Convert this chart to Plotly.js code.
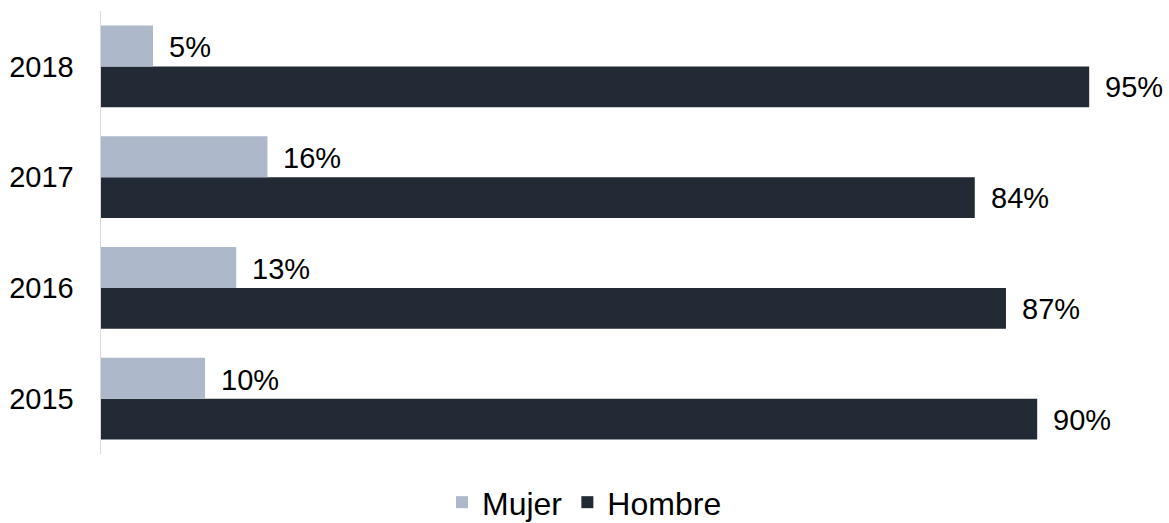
<!DOCTYPE html>
<html>
<head>
<meta charset="utf-8">
<script src="https://cdn.plot.ly/plotly-3.0.1.min.js"></script>
<style>html,body{margin:0;padding:0;background:#fff;}#chart{width:1169px;height:523px;}</style>
</head>
<body>
<div id="chart"></div>
<script>
const years = ['2015', '2016', '2017', '2018'];
const mujer = [10, 13, 16, 5];
const hombre = [90, 87, 84, 95];
const seriesNames = ['Mujer', 'Hombre'];
const colors = {Mujer: '#adb9ca', Hombre: '#222a35'};

const FONT = 'Liberation Sans, Arial, sans-serif';
const FS = 29;

const traces = [
  {type: 'bar', orientation: 'h', name: seriesNames[1], y: years, x: hombre,
   marker: {color: colors.Hombre}, hoverinfo: 'skip'},
  {type: 'bar', orientation: 'h', name: seriesNames[0], y: years, x: mujer,
   marker: {color: colors.Mujer}, hoverinfo: 'skip'}
];

const annotations = [];
years.forEach((yr, i) => {
  annotations.push({x: mujer[i], y: i, xref: 'x', yref: 'y', text: mujer[i] + '%',
    showarrow: false, xanchor: 'left', yanchor: 'middle', xshift: 14, yshift: 19,
    font: {family: FONT, size: FS, color: '#000'}});
  annotations.push({x: hombre[i], y: i, xref: 'x', yref: 'y', text: hombre[i] + '%',
    showarrow: false, xanchor: 'left', yanchor: 'middle', xshift: 14, yshift: -21,
    font: {family: FONT, size: FS, color: '#000'}});
});

const layout = {
  width: 1169, height: 523,
  margin: {l: 101, r: 7, t: 11, b: 69, autoexpand: false},
  paper_bgcolor: '#fff', plot_bgcolor: '#fff',
  barmode: 'group', bargap: 0.26, bargroupgap: 0,
  font: {family: FONT, size: FS, color: '#000'},
  xaxis: {range: [0, 102], visible: false, fixedrange: true},
  yaxis: {type: 'category', range: [-0.5, 3.5], showline: true, linecolor: '#d9d9d9', linewidth: 1.5,
    showgrid: false, zeroline: false, ticks: '', ticklabelstandoff: 20,
    tickfont: {family: FONT, size: FS, color: '#000'}},
  showlegend: true,
  legend: {orientation: 'h', traceorder: 'reversed', xref: 'container', yref: 'container',
    x: 0.5, xanchor: 'center', y: 0.092, yanchor: 'top', itemwidth: 30,
    font: {family: FONT, size: 32, color: '#000'}, itemclick: false},
  annotations: annotations
};

Plotly.newPlot('chart', traces, layout, {displayModeBar: false, staticPlot: true});
</script>
</body>
</html>
